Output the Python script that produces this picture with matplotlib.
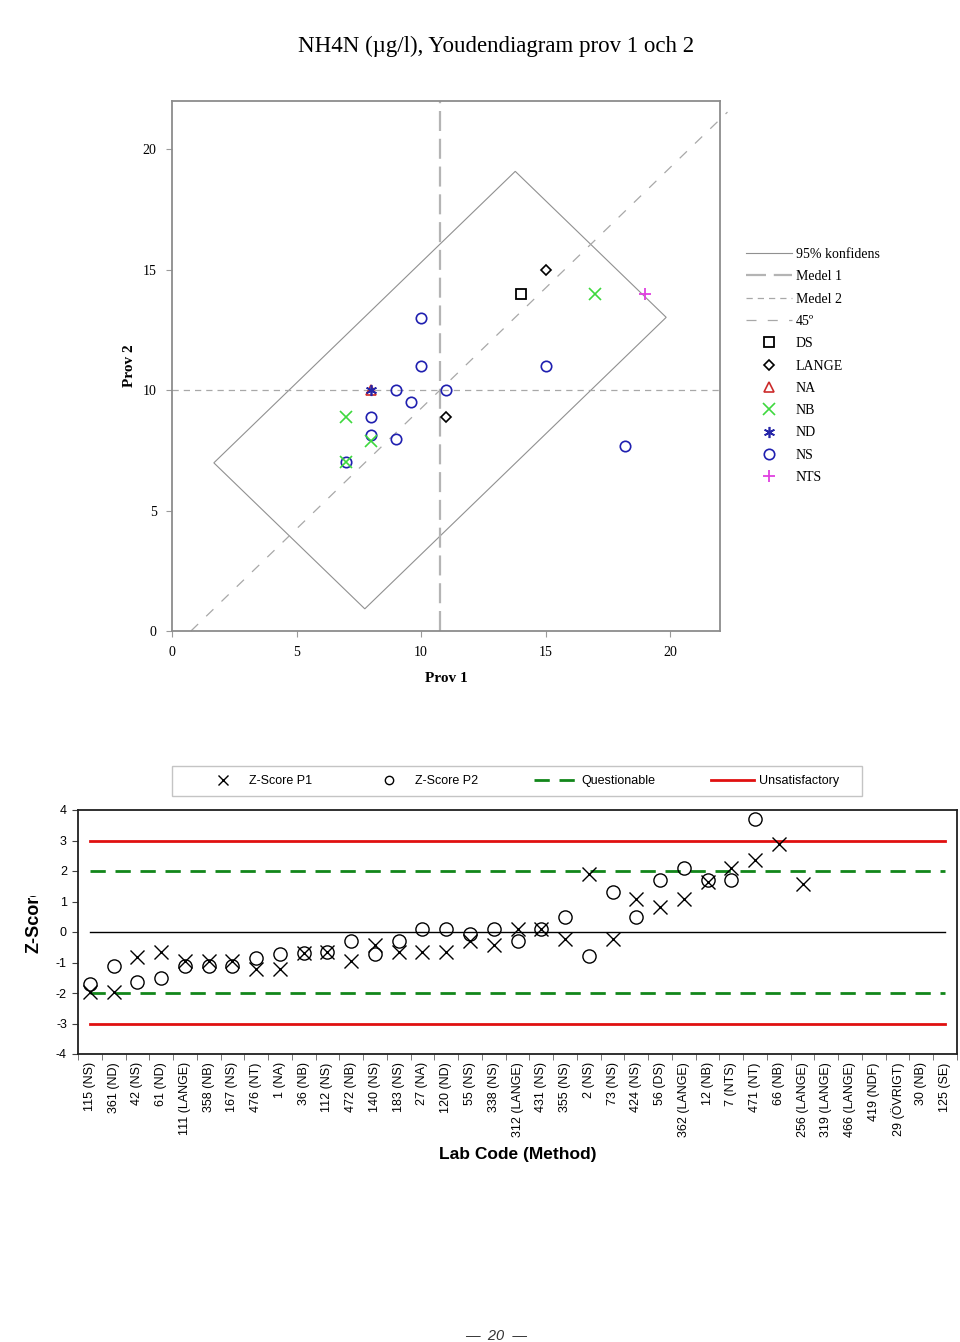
import numpy as np
import matplotlib
matplotlib.use('Agg')
import matplotlib.pyplot as plt
from matplotlib.lines import Line2D
from matplotlib.patches import Polygon, Rectangle
from matplotlib.transforms import Bbox, TransformedBbox

plt.rcParams['axes.unicode_minus'] = False
SERIF = ['Liberation Serif', 'DejaVu Serif']
SANS = ['Liberation Sans', 'DejaVu Sans']

# ---------------- data ----------------
title = 'NH4N (µg/l), Youdendiagram prov 1 och 2'

ds_p1 = [14.0]
ds_p2 = [14.0]
lange_p1 = [15.0, 11.0]
lange_p2 = [15.0, 8.9]
na_p1 = [8.0]
na_p2 = [10.0]
nb_p1 = [7.0, 8.0, 17.0, 7.0]
nb_p2 = [8.9, 7.9, 14.0, 7.0]
nd_p1 = [8.0]
nd_p2 = [10.0]
ns_p1 = [10.0, 10.0, 9.0, 11.0, 9.6, 8.0, 8.0, 9.0, 15.0, 18.2, 7.0]
ns_p2 = [13.0, 11.0, 10.0, 10.0, 9.5, 8.9, 8.15, 7.95, 11.0, 7.7, 7.0]
nts_p1 = [19.0]
nts_p2 = [14.0]

medel1 = 10.76
medel2 = 10.0
conf_along = 6.05
conf_across = 3.03

lab_codes = ['115 (NS)', '361 (ND)', '42 (NS)', '61 (ND)', '111 (LANGE)', '358 (NB)',
             '167 (NS)', '476 (NT)', '1 (NA)', '36 (NB)', '112 (NS)', '472 (NB)',
             '140 (NS)', '183 (NS)', '27 (NA)', '120 (ND)', '55 (NS)', '338 (NS)',
             '312 (LANGE)', '431 (NS)', '355 (NS)', '2 (NS)', '73 (NS)', '424 (NS)',
             '56 (DS)', '362 (LANGE)', '12 (NB)', '7 (NTS)', '471 (NT)', '66 (NB)',
             '256 (LANGE)', '319 (LANGE)', '466 (LANGE)', '419 (NDF)', '29 (ÖVRIGT)',
             '30 (NB)', '125 (SE)']
nan = np.nan
z_p1 = [-1.96, -1.96, -0.82, -0.67, -0.95, -0.95, -0.95, -1.20, -1.20, -0.70,
        -0.65, -0.95, -0.41, -0.67, -0.67, -0.67, -0.30, -0.41, 0.09, 0.09,
        -0.22, 1.89, -0.22, 1.09, 0.83, 1.09, 1.64, 2.11, 2.37, 2.89,
        1.59, nan, nan, nan, nan, nan, nan]
z_p2 = [-1.69, -1.11, -1.65, -1.52, -1.11, -1.11, -1.11, -0.85, -0.71, -0.70,
        -0.65, -0.30, -0.71, -0.30, 0.11, 0.11, -0.05, 0.11, -0.29, 0.09,
        0.50, -0.78, 1.31, 0.50, 1.72, 2.11, 1.72, 1.72, 3.70, nan,
        nan, nan, nan, nan, nan, nan, nan]
questionable = 2
unsatisfactory = 3

# ---------------- figure ----------------
W, H = 960, 1342
fig = plt.figure(figsize=(W / 100, H / 100), dpi=100)


def fx(px):
    return px / W


def fy(py):
    return 1 - py / H


fig.text(fx(496), fy(46), title, ha='center', va='center', fontsize=16.5,
         family=SERIF)

# ---------------- Youden plot ----------------
ax1 = fig.add_axes([fx(172), fy(631), fx(720) - fx(172), fy(101) - fy(631)])
ax1.set_xlim(0, 22)
ax1.set_ylim(0, 22)
for s in ax1.spines.values():
    s.set_color('#8c8c8c')
    s.set_linewidth(1.3)
ax1.set_xticks([0, 5, 10, 15, 20])
ax1.set_yticks([0, 5, 10, 15, 20])
ax1.tick_params(direction='out', length=4, width=0.8, color='#9a9a9a',
                labelsize=10, pad=7)
for lab in ax1.get_xticklabels() + ax1.get_yticklabels():
    lab.set_family(SERIF)
ax1.set_xlabel('Prov 1', family=SERIF, fontsize=11, fontweight='bold', labelpad=9)
ax1.set_ylabel('Prov 2', family=SERIF, fontsize=11, fontweight='bold', labelpad=5)

cx, cy, a, b = medel1, medel2, conf_along, conf_across
corners = [(cx + a - b, cy + a + b), (cx + a + b, cy + a - b),
           (cx - a + b, cy - a - b), (cx - a - b, cy - a + b)]
ax1.add_patch(Polygon(corners, closed=True, fill=False, edgecolor='#909090', lw=0.8))

conf_style = dict(color='#909090', lw=0.8)
m1_style = dict(color='#b4b4b4', lw=1.6, ls=(0, (9, 3.5)))
m2_style = dict(color='#a8a8a8', lw=0.9, ls=(0, (5, 4)))
d45_style = dict(color='#a8a8a8', lw=0.9, ls=(0, (8, 9)))

ax1.plot([medel1, medel1], [0, 22], **m1_style)
ax1.plot([0, 22], [medel2, medel2], **m2_style)
x45 = np.array([medel1 - medel2, 22.3])
ax1.plot(x45, x45 - medel1 + medel2, clip_on=False, **d45_style)

ds_style = dict(ls='none', marker='s', ms=7, mfc='none', mec='black', mew=1.3)
lange_style = dict(ls='none', marker='D', ms=5, mfc='none', mec='black', mew=1.2)
na_style = dict(ls='none', marker='^', ms=7, mfc='none', mec='#cc2b2b', mew=1.2)
nb_style = dict(ls='none', marker='x', ms=8, mec='#3ed83e', mew=1.2)
nd_style = dict(ls='none', marker=(6, 2, 0), ms=8, mec='#2626a8', mew=1.2)
ns_style = dict(ls='none', marker='o', ms=7.5, mfc='none', mec='#2020b0', mew=1.2)
nts_style = dict(ls='none', marker='+', ms=9, mec='#e040e0', mew=1.3)

ax1.plot(ds_p1, ds_p2, **ds_style)
ax1.plot(lange_p1, lange_p2, **lange_style)
ax1.plot(na_p1, na_p2, **na_style)
ax1.plot(ns_p1, ns_p2, **ns_style)
ax1.plot(nb_p1, nb_p2, **nb_style)
ax1.plot(nd_p1, nd_p2, **nd_style)
ax1.plot(nts_p1, nts_p2, **nts_style)

handles = [Line2D([], [], **conf_style), Line2D([], [], **m1_style),
           Line2D([], [], **m2_style), Line2D([], [], **d45_style),
           Line2D([], [], **ds_style), Line2D([], [], **lange_style),
           Line2D([], [], **na_style), Line2D([], [], **nb_style),
           Line2D([], [], **nd_style), Line2D([], [], **ns_style),
           Line2D([], [], **nts_style)]
labels = ['95% konfidens', 'Medel 1', 'Medel 2', '45º', 'DS', 'LANGE', 'NA', 'NB',
          'ND', 'NS', 'NTS']
fig.legend(handles, labels, loc='upper left', bbox_to_anchor=(fx(746), fy(248)),
           bbox_transform=fig.transFigure, frameon=False, borderpad=0,
           borderaxespad=0, handlelength=3.3, handletextpad=0.3,
           labelspacing=0.67, prop=dict(family=SERIF, size=10))

# ---------------- Z-score plot ----------------
ax2 = fig.add_axes([fx(78), fy(1054), fx(957) - fx(78), fy(810) - fy(1054)])
xs = np.arange(len(lab_codes))
ax2.set_xlim(-0.5, len(lab_codes) - 0.5)
ax2.set_ylim(-4, 4)
for s in ax2.spines.values():
    s.set_color('#202020')
    s.set_linewidth(1.3)

x0, x1 = xs[0], xs[-1]
ax2.plot([x0, x1], [unsatisfactory, unsatisfactory], color='#e01010', lw=2)
ax2.plot([x0, x1], [-unsatisfactory, -unsatisfactory], color='#e01010', lw=2)
ax2.plot([x0, x1], [questionable, questionable], color='#12861a', lw=2,
         ls=(0, (5.5, 3.5)))
ax2.plot([x0, x1], [-questionable, -questionable], color='#12861a', lw=2,
         ls=(0, (5.5, 3.5)))
ax2.plot([x0, x1], [0, 0], color='black', lw=1)

ax2.plot(xs, z_p1, ls='none', marker='x', ms=9.5, mec='black', mew=1.0)
ax2.plot(xs, z_p2, ls='none', marker='o', ms=9.5, mfc='none', mec='black', mew=1.0)

ax2.set_yticks(np.arange(-4, 5, 1))
ax2.set_xticks(xs)
ax2.set_xticklabels(lab_codes, rotation=90, family=SANS, fontsize=9)
ax2.set_xticks(np.arange(-0.5, len(lab_codes)), minor=True)
ax2.tick_params(axis='x', which='major', length=0, pad=6)
ax2.tick_params(axis='x', which='minor', length=4, color='#606060', direction='out')
ax2.tick_params(axis='y', length=4, color='#404040', labelsize=9, pad=4)
for lab in ax2.get_yticklabels():
    lab.set_family(SANS)

fig.text(fx(518), fy(1154), 'Lab Code (Method)', ha='center', va='center',
         family=SANS, fontsize=12.5, fontweight='bold')

zt = fig.text(fx(34), fy(953), 'Z-Score', rotation=90, ha='center', va='bottom',
              family=SANS, fontsize=13, fontweight='bold', clip_on=True)
zt.set_clip_box(TransformedBbox(Bbox([[0, 0], [1, fy(896)]]), fig.transFigure))

# legend box of Z-score plot
fig.add_artist(Rectangle((fx(172), fy(796)), fx(862) - fx(172), fy(766) - fy(796),
                         transform=fig.transFigure, fill=False,
                         edgecolor='#c4c4c4', lw=1))
zh = [Line2D([], [], ls='none', marker='x', ms=6.5, mec='black', mew=1.0),
      Line2D([], [], ls='none', marker='o', ms=6, mfc='none', mec='black', mew=1.0),
      Line2D([], [], color='#12861a', lw=2, ls=(0, (5.5, 3.5))),
      Line2D([], [], color='#e01010', lw=2)]
zl = ['Z-Score P1', 'Z-Score P2', 'Questionable', 'Unsatisfactory']
fig.legend(zh, zl, loc='center', bbox_to_anchor=(fx(520), fy(781)),
           bbox_transform=fig.transFigure, ncol=4, frameon=False, borderpad=0,
           handlelength=3.5, handletextpad=0.35, columnspacing=4.4,
           prop=dict(family=SANS, size=9))

fig.text(fx(496), fy(1336), '—  20  —', ha='center', va='center', family=SANS,
         fontsize=10.5, style='italic', color='#333333')

fig.savefig('out.png', dpi=100)
